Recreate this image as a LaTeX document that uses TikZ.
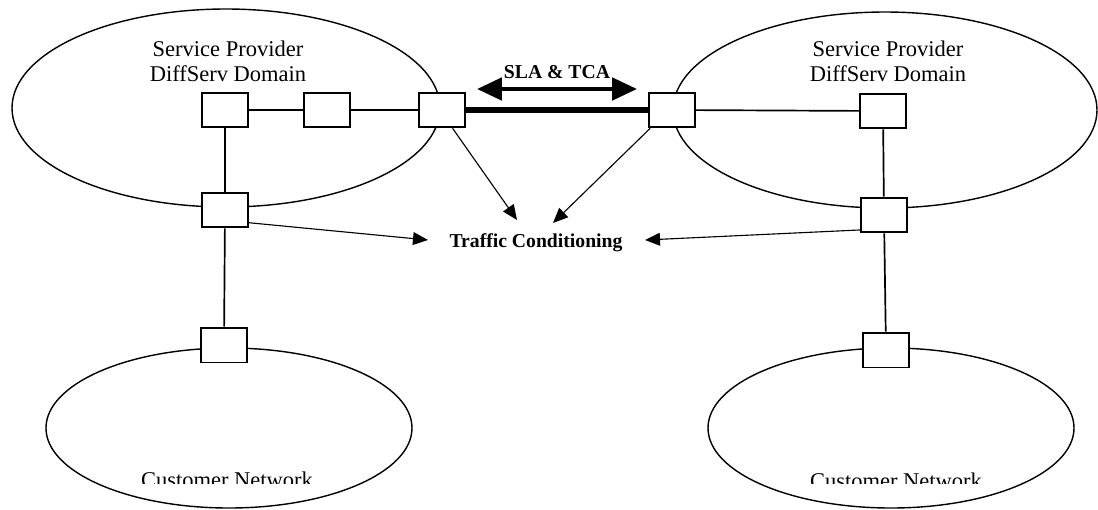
\documentclass[tikz,border=0pt]{standalone}
\usepackage{fontspec}
\setmainfont{Liberation Serif}
\usepackage{tikz}
\usetikzlibrary{arrows.meta}
\tikzset{router/.style={draw,line width=1.3pt,fill=white,minimum width=1.15cm,minimum height=0.87cm,inner sep=0pt},
 netzone/.style={line width=1pt},
 link/.style={line width=1.2pt},
 trunk/.style={line width=3.6pt},
 tcarrow/.style={line width=0.8pt,-{Triangle[length=0.375cm,width=0.32cm]}},
 slaarrow/.style={line width=3.2pt,{Triangle[length=0.62cm,width=0.55cm]}-{Triangle[length=0.62cm,width=0.55cm]}},
 plain/.style={font=\fontsize{16}{17.8}\selectfont,align=center,inner sep=0pt},
 heavy/.style={font=\fontsize{14}{15}\selectfont\bfseries,inner sep=0pt},
 }

\begin{document}
\begin{tikzpicture}[x=0.025cm,y=-0.025cm]
        \useasboundingbox (0,0) rectangle (1098,509);
        \draw[netzone] (226,108) ellipse [x radius=214,y radius=99];
        \draw[netzone] (885,110) ellipse [x radius=212,y radius=98];
        \draw[netzone] (229,428) ellipse [x radius=183,y radius=80];
        \draw[netzone] (891,428) ellipse [x radius=183,y radius=80];

        \node[plain] (spL) at (228,61) {Service Provider\\DiffServ Domain};
        \node[plain] (spR) at (888,61) {Service Provider\\DiffServ Domain};
        \begin{scope}
        \clip (0,0) rectangle (1098,483);
        \node[plain,anchor=base] (cnL) at (227,487) {Customer Network};
        \node[plain,anchor=base] (cnR) at (896,488) {Customer Network};
        \end{scope}

        \node[router] (a1) at (225,110) {};
        \node[router] (a2) at (327,110) {};
        \node[router] (a3) at (442,110) {};
        \node[router] (a4) at (225,210) {};
        \node[router] (c1) at (224,345) {};
        \node[router] (b1) at (672,110) {};
        \node[router] (b2) at (883,111) {};
        \node[router] (b3) at (884,215) {};
        \node[router] (c2) at (886,350) {};

        \draw[link] (a1) -- (a2);
        \draw[link] (a2) -- (a3);
        \draw[trunk] (a3) -- (b1);
        \draw[link] (b1) -- (b2);
        \draw[link] (a1) -- (a4);
        \draw[link] (a4) -- (c1);
        \draw[link] (b2) -- (b3);
        \draw[link] (b3) -- (c2);

        \node[heavy,anchor=base] (slatxt) at (557,78) {SLA \& TCA};
        \coordinate (slaL) at (477,89);
        \coordinate (slaR) at (637,89);
        \draw[slaarrow] (slaL) -- (slaR);

        \node[heavy,anchor=base] (tc) at (536,247) {Traffic Conditioning};
        \coordinate (tcW) at (428,240);
        \coordinate (tcE) at (645,240);
        \coordinate (tcNW) at (517,220);
        \coordinate (tcNE) at (553,223);
        \draw[tcarrow] (a4.-28) -- (tcW);
        \draw[tcarrow] (a3.-60) -- (tcNW);
        \draw[tcarrow] (b1.-140) -- (tcNE);
        \draw[tcarrow] (b3.-148) -- (tcE);
\end{tikzpicture}
\end{document}
